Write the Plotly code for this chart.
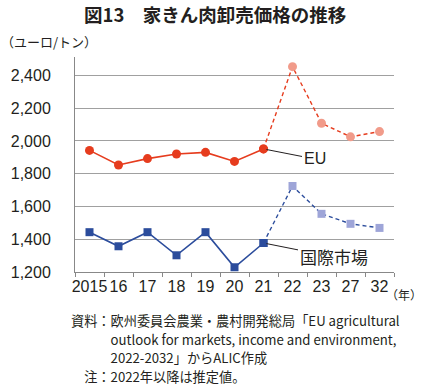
import plotly.graph_objects as go

years = ["2015", "16", "17", "18", "19", "20", "21", "22", "23", "27", "32"]
eu = [1942, 1853, 1892, 1920, 1930, 1875, 1951, 2453, 2108, 2025, 2057]
intl = [1443, 1357, 1443, 1302, 1443, 1229, 1377, 1725, 1555, 1494, 1469]
n_actual = 7  # 2015-2021 actual, 2022+ estimates

notes = [
    "資料：欧州委員会農業・農村開発総局「EU agricultural",
    "　　　outlook for markets, income and environment,",
    "　　　2022-2032」からALIC作成",
    "　注：2022年以降は推定値。",
]

FONT = "Liberation Sans, Arial, Noto Sans CJK JP"
JP = "Noto Sans CJK JP, Liberation Sans"
TXT = "#231f20"

EU_C, EU_L = "#e63c1e", "#f19b8a"
IN_C, IN_L = "#2b4c9c", "#9ea5d8"

fig = go.Figure()

def add_series(vals, c_solid, c_light, symbol, size):
    fig.add_trace(go.Scatter(x=years[:n_actual], y=vals[:n_actual], mode="lines+markers",
                             line=dict(color=c_solid, width=1.6),
                             marker=dict(color=c_solid, symbol=symbol, size=size),
                             showlegend=False, hoverinfo="skip"))
    fig.add_trace(go.Scatter(x=years[n_actual - 1:], y=vals[n_actual - 1:], mode="lines",
                             line=dict(color=c_solid, width=1.4, dash="4px,3px"),
                             showlegend=False, hoverinfo="skip"))
    fig.add_trace(go.Scatter(x=years[n_actual:], y=vals[n_actual:], mode="markers",
                             marker=dict(color=c_light, symbol=symbol, size=size),
                             showlegend=False, hoverinfo="skip"))
    fig.add_trace(go.Scatter(x=[years[n_actual - 1]], y=[vals[n_actual - 1]], mode="markers",
                             marker=dict(color=c_solid, symbol=symbol, size=size),
                             showlegend=False, hoverinfo="skip"))

add_series(eu, EU_C, EU_L, "circle", 9)
add_series(intl, IN_C, IN_L, "square", 8)

# annotations anchored at the category index of the last actual year
fig.add_annotation(x=n_actual - 1, y=eu[n_actual - 1], text="EU", showarrow=True,
                   arrowhead=0, arrowwidth=1, arrowcolor=TXT, ax=51, ay=10,
                   font=dict(family=FONT, size=16, color=TXT), standoff=3)
fig.add_annotation(x=n_actual - 1, y=intl[n_actual - 1], text="国際市場", showarrow=True,
                   arrowhead=0, arrowwidth=1, arrowcolor=TXT, ax=70, ay=14,
                   font=dict(family=JP, size=17, color=TXT), standoff=3)

fig.add_annotation(xref="paper", yref="paper", x=0.5, y=1, xanchor="center", yanchor="bottom",
                   text="<b>図13　家きん肉卸売価格の推移</b>", showarrow=False,
                   font=dict(family=JP, size=18.5, color=TXT), yshift=28, xshift=-20)
fig.add_annotation(xref="paper", yref="paper", x=0, y=1, xanchor="left", yanchor="bottom",
                   text="（ユーロ/トン）", showarrow=False,
                   font=dict(family=JP, size=13, color=TXT), xshift=-76, yshift=4)
fig.add_annotation(xref="paper", yref="paper", x=1, y=0, xanchor="left", yanchor="top",
                   text="（年）", showarrow=False,
                   font=dict(family=JP, size=12, color=TXT), xshift=-10, yshift=-12)
for line, dy in zip(notes, [48, 67, 85, 104]):
    fig.add_annotation(xref="paper", yref="paper", x=0, y=0, xanchor="left", yanchor="middle",
                       align="left", showarrow=False, text=line,
                       font=dict(family=JP, size=13.2, color=TXT), xshift=-6, yshift=-dy)

fig.update_xaxes(type="category", tickson="boundaries", ticks="outside", ticklen=4,
                 tickcolor="#888", showline=True, linecolor="#888", linewidth=1,
                 showgrid=False, tickangle=0, automargin=False,
                 tickfont=dict(family=FONT, size=16, color=TXT),
                 range=[-0.5, len(years) - 0.5])
fig.update_yaxes(range=[1200, 2512], tickvals=[1200, 1400, 1600, 1800, 2000, 2200, 2400],
                 tickformat=",d", showgrid=True, gridcolor="#a0a0a0", gridwidth=1,
                 showline=True, linecolor="#888", linewidth=1, zeroline=False,
                 automargin=False,
                 tickfont=dict(family=FONT, size=16, color=TXT), ticklabelstandoff=20)

fig.update_layout(width=424, height=385, margin=dict(l=75, r=30, t=57, b=113),
                  plot_bgcolor="white", paper_bgcolor="white")

fig.write_html("out.html", config={"displayModeBar": False},
               post_script="document.body.style.margin='0';document.body.style.overflow='hidden';")
